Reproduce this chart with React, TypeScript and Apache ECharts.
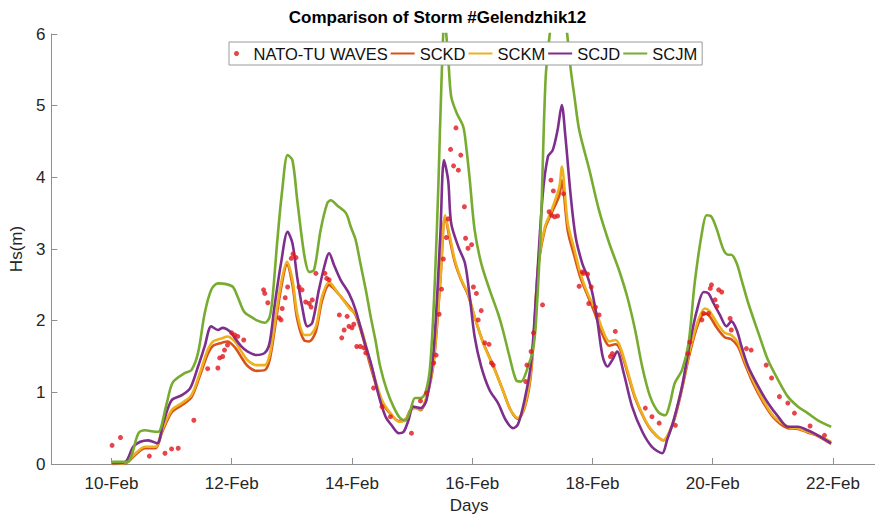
import React, { useEffect, useRef } from "react";
import * as echarts from "echarts";

// Days of February shown as tick labels on the time axis
const xTickDays = [10, 12, 14, 16, 18, 20, 22];

// Measured significant wave height, [day of Feb, Hs (m)]
const natoTuWaves: [number, number][] = [
  [10.01, 0.26], [10.15, 0.37], [10.63, 0.11], [10.89, 0.15], [11.0, 0.21], [11.11, 0.22],
  [11.37, 0.61], [11.6, 1.33], [11.77, 1.34], [11.8, 1.48], [11.85, 1.5], [11.88, 1.59],
  [11.93, 1.66], [12.0, 1.83], [12.05, 1.8], [12.1, 1.78], [12.2, 1.73], [12.53, 2.43],
  [12.55, 2.38], [12.6, 2.25], [12.79, 2.04], [12.82, 2.01], [12.84, 2.17], [12.89, 2.32],
  [12.93, 2.47], [12.99, 2.87], [13.02, 2.93], [13.07, 2.88], [13.12, 2.47], [13.17, 2.43],
  [13.23, 2.26], [13.29, 2.24], [13.32, 2.19], [13.34, 2.29], [13.4, 2.66], [13.55, 2.66],
  [13.58, 2.59], [13.62, 2.57], [13.79, 2.08], [13.83, 1.76], [13.87, 1.87], [13.92, 2.06],
  [13.95, 1.92], [14.0, 1.9], [14.03, 1.95], [14.08, 1.64], [14.14, 1.64], [14.2, 1.62],
  [14.23, 1.55], [14.36, 1.06], [14.5, 0.8], [14.64, 0.66], [14.99, 0.43], [15.14, 0.88],
  [15.24, 0.99], [15.36, 1.41], [15.4, 1.52], [15.45, 2.09], [15.49, 2.44], [15.52, 2.86],
  [15.57, 3.16], [15.6, 3.42], [15.64, 4.39], [15.69, 4.16], [15.73, 4.69], [15.77, 4.1],
  [15.81, 4.31], [15.87, 3.59], [15.89, 3.15], [15.93, 3.01], [15.99, 3.06], [16.02, 2.47],
  [16.07, 2.38], [16.1, 2.01], [16.15, 2.14], [16.21, 1.69], [16.28, 1.67], [16.32, 1.41],
  [16.35, 1.38], [16.89, 1.15], [16.91, 1.38], [16.98, 1.57], [17.02, 1.83], [17.17, 2.22],
  [17.28, 3.52], [17.31, 3.96], [17.32, 3.47], [17.35, 3.81], [17.37, 3.45], [17.42, 3.46],
  [17.52, 3.77], [17.78, 2.48], [17.83, 2.68], [17.85, 2.66], [17.92, 2.65], [17.94, 2.24],
  [17.98, 2.47], [18.05, 2.19], [18.11, 2.08], [18.3, 1.5], [18.33, 1.54], [18.38, 1.85],
  [18.88, 0.78], [18.99, 0.66], [19.11, 0.57], [19.38, 0.54], [19.59, 1.54], [19.62, 1.7],
  [19.82, 2.01], [19.85, 2.1], [19.93, 2.1], [19.96, 2.45], [19.98, 2.5], [20.04, 2.29],
  [20.07, 2.2], [20.1, 2.43], [20.15, 2.4], [20.29, 2.03], [20.31, 1.87], [20.56, 1.61],
  [20.64, 1.59], [20.89, 1.38], [20.98, 1.2], [21.11, 0.94], [21.25, 0.85], [21.36, 0.71],
  [21.62, 0.53], [21.86, 0.4],
];

// Modelled Hs, [day of Feb, Hs (m)]
const sckd: [number, number][] = [
  [10.01, 0.0], [10.23, 0.01], [10.4, 0.13], [10.56, 0.22], [10.73, 0.22], [10.84, 0.44],
  [11.0, 0.72], [11.17, 0.82], [11.33, 0.93], [11.47, 1.23], [11.6, 1.53], [11.69, 1.65],
  [11.83, 1.69], [11.93, 1.71], [12.05, 1.63], [12.16, 1.49], [12.26, 1.37], [12.41, 1.3],
  [12.55, 1.31], [12.63, 1.45], [12.71, 1.85], [12.82, 2.45], [12.92, 2.78], [13.01, 2.5],
  [13.09, 2.02], [13.21, 1.72], [13.29, 1.71], [13.4, 1.85], [13.5, 2.27], [13.62, 2.5],
  [13.73, 2.42], [13.87, 2.28], [13.98, 2.17], [14.06, 2.08], [14.17, 1.8], [14.28, 1.45],
  [14.39, 1.13], [14.5, 0.86], [14.64, 0.7], [14.78, 0.6], [14.89, 0.62], [14.97, 0.75],
  [15.05, 0.79], [15.14, 0.75], [15.24, 0.92], [15.36, 1.42], [15.47, 2.55], [15.55, 3.45],
  [15.63, 3.12], [15.71, 2.82], [15.82, 2.56], [15.93, 2.36], [16.04, 2.05], [16.18, 1.7],
  [16.35, 1.37], [16.51, 1.03], [16.64, 0.75], [16.76, 0.63], [16.87, 0.78], [16.97, 1.2],
  [17.03, 1.85], [17.1, 2.75], [17.21, 3.28], [17.32, 3.5], [17.45, 3.75], [17.49, 3.96],
  [17.59, 3.25], [17.7, 2.9], [17.8, 2.6], [17.92, 2.35], [18.05, 2.08], [18.17, 1.8],
  [18.28, 1.65], [18.38, 1.67], [18.46, 1.6], [18.58, 1.28], [18.71, 0.92], [18.88, 0.6],
  [18.99, 0.46], [19.18, 0.33], [19.27, 0.42], [19.37, 0.64], [19.49, 1.05], [19.62, 1.55],
  [19.76, 1.96], [19.87, 2.1], [19.95, 2.06], [20.07, 1.9], [20.2, 1.77], [20.31, 1.74],
  [20.42, 1.64], [20.53, 1.41], [20.67, 1.13], [20.84, 0.86], [21.02, 0.64], [21.25, 0.5],
  [21.42, 0.49], [21.58, 0.44], [21.75, 0.39], [21.97, 0.28],
];

const sckm: [number, number][] = [
  [10.01, 0.0], [10.23, 0.02], [10.4, 0.15], [10.56, 0.24], [10.73, 0.24], [10.84, 0.47],
  [11.0, 0.75], [11.17, 0.85], [11.33, 0.96], [11.47, 1.27], [11.6, 1.59], [11.69, 1.71],
  [11.83, 1.75], [11.93, 1.78], [12.05, 1.71], [12.16, 1.57], [12.26, 1.45], [12.41, 1.38],
  [12.55, 1.38], [12.63, 1.52], [12.71, 1.92], [12.82, 2.52], [12.92, 2.82], [13.01, 2.57],
  [13.09, 2.1], [13.21, 1.8], [13.29, 1.8], [13.4, 1.92], [13.5, 2.33], [13.62, 2.54],
  [13.73, 2.43], [13.87, 2.27], [13.98, 2.15], [14.06, 2.1], [14.17, 1.85], [14.28, 1.5],
  [14.39, 1.17], [14.5, 0.89], [14.64, 0.71], [14.78, 0.59], [14.89, 0.61], [14.97, 0.75],
  [15.05, 0.78], [15.14, 0.76], [15.24, 0.94], [15.36, 1.45], [15.47, 2.57], [15.55, 3.47],
  [15.63, 3.17], [15.71, 2.85], [15.82, 2.57], [15.93, 2.38], [16.04, 2.06], [16.18, 1.69],
  [16.35, 1.36], [16.51, 1.03], [16.64, 0.75], [16.76, 0.64], [16.87, 0.8], [16.97, 1.25],
  [17.03, 1.87], [17.1, 2.8], [17.21, 3.31], [17.32, 3.54], [17.45, 3.87], [17.49, 4.15],
  [17.59, 3.36], [17.7, 2.99], [17.8, 2.66], [17.92, 2.38], [18.05, 2.15], [18.17, 1.87],
  [18.28, 1.71], [18.38, 1.73], [18.46, 1.64], [18.58, 1.31], [18.71, 0.94], [18.88, 0.61],
  [18.99, 0.47], [19.18, 0.33], [19.27, 0.43], [19.37, 0.66], [19.49, 1.08], [19.62, 1.59],
  [19.76, 2.01], [19.87, 2.17], [19.95, 2.13], [20.07, 1.97], [20.2, 1.83], [20.31, 1.8],
  [20.42, 1.69], [20.53, 1.45], [20.67, 1.17], [20.84, 0.89], [21.02, 0.66], [21.25, 0.52],
  [21.42, 0.5], [21.58, 0.45], [21.75, 0.4], [21.97, 0.31],
];

const scjd: [number, number][] = [
  [10.01, 0.01], [10.23, 0.03], [10.36, 0.24], [10.48, 0.31], [10.61, 0.33], [10.76, 0.29],
  [10.86, 0.57], [11.0, 0.89], [11.17, 0.96], [11.31, 1.06], [11.44, 1.36], [11.55, 1.64],
  [11.66, 1.92], [11.77, 1.87], [11.85, 1.9], [11.97, 1.85], [12.05, 1.76], [12.16, 1.64],
  [12.26, 1.57], [12.41, 1.52], [12.55, 1.55], [12.63, 1.69], [12.71, 2.19], [12.82, 2.8],
  [12.93, 3.24], [13.01, 3.08], [13.09, 2.6], [13.17, 2.2], [13.26, 1.92], [13.34, 1.97],
  [13.45, 2.43], [13.57, 2.85], [13.62, 2.94], [13.7, 2.78], [13.81, 2.57], [13.95, 2.38],
  [14.06, 2.15], [14.2, 1.73], [14.33, 1.36], [14.45, 0.94], [14.56, 0.66], [14.66, 0.54],
  [14.78, 0.43], [14.86, 0.45], [14.94, 0.61], [15.02, 0.8], [15.14, 0.78], [15.24, 0.89],
  [15.36, 1.6], [15.47, 3.2], [15.53, 4.24], [15.6, 3.96], [15.65, 3.36], [15.77, 3.03],
  [15.88, 2.8], [15.96, 2.33], [16.04, 1.78], [16.15, 1.36], [16.29, 1.03], [16.43, 0.85],
  [16.56, 0.61], [16.68, 0.5], [16.76, 0.55], [16.87, 0.89], [16.98, 1.41], [17.06, 2.33],
  [17.17, 3.73], [17.26, 4.29], [17.34, 4.38], [17.42, 4.66], [17.49, 5.01], [17.55, 4.57],
  [17.64, 3.73], [17.72, 3.17], [17.83, 2.8], [17.92, 2.61], [18.0, 2.38], [18.08, 2.01],
  [18.17, 1.5], [18.25, 1.36], [18.33, 1.45], [18.41, 1.57], [18.52, 1.27], [18.66, 0.8],
  [18.83, 0.45], [18.99, 0.24], [19.16, 0.15], [19.24, 0.33], [19.35, 0.61], [19.49, 1.08],
  [19.62, 1.69], [19.74, 2.15], [19.85, 2.4], [19.93, 2.38], [20.01, 2.25], [20.12, 2.08],
  [20.23, 1.92], [20.31, 1.99], [20.4, 1.87], [20.48, 1.64], [20.59, 1.36], [20.76, 1.08],
  [20.92, 0.85], [21.09, 0.66], [21.25, 0.52], [21.42, 0.52], [21.58, 0.47], [21.75, 0.4],
  [21.97, 0.29],
];

const scjm: [number, number][] = [
  [10.01, 0.03], [10.26, 0.03], [10.45, 0.43], [10.56, 0.47], [10.73, 0.45], [10.78, 0.45],
  [10.92, 0.85], [11.02, 1.14], [11.22, 1.27], [11.33, 1.31], [11.44, 1.55], [11.55, 2.1],
  [11.66, 2.43], [11.77, 2.52], [11.91, 2.51], [12.02, 2.47], [12.1, 2.33], [12.21, 2.12],
  [12.33, 2.05], [12.43, 2.0], [12.55, 1.97], [12.63, 2.05], [12.68, 2.33], [12.76, 3.13],
  [12.84, 3.82], [12.93, 4.31], [13.01, 4.24], [13.09, 3.68], [13.21, 2.9], [13.29, 2.68],
  [13.37, 2.71], [13.48, 3.27], [13.59, 3.64], [13.65, 3.68], [13.75, 3.61], [13.9, 3.5],
  [13.98, 3.31], [14.06, 3.13], [14.14, 2.8], [14.23, 2.43], [14.31, 2.06], [14.39, 1.73],
  [14.47, 1.36], [14.58, 1.03], [14.69, 0.8], [14.8, 0.64], [14.89, 0.61], [14.97, 0.75],
  [15.05, 0.92], [15.14, 0.92], [15.22, 0.99], [15.3, 1.36], [15.38, 2.57], [15.44, 3.96],
  [15.49, 5.36], [15.54, 6.2], [15.6, 5.68], [15.65, 5.13], [15.74, 4.9], [15.85, 4.71],
  [15.9, 4.43], [15.96, 3.96], [16.04, 3.27], [16.15, 2.8], [16.29, 2.43], [16.43, 2.1],
  [16.51, 1.87], [16.62, 1.5], [16.73, 1.17], [16.81, 1.15], [16.93, 1.36], [17.01, 1.59],
  [17.06, 1.97], [17.14, 3.27], [17.22, 5.36], [17.29, 6.0], [17.4, 6.7], [17.5, 6.55],
  [17.58, 6.0], [17.64, 5.5], [17.7, 5.13], [17.78, 4.66], [17.95, 4.1], [18.11, 3.54],
  [18.28, 3.08], [18.44, 2.71], [18.58, 2.33], [18.71, 1.87], [18.83, 1.35], [18.96, 0.94],
  [19.1, 0.72], [19.21, 0.68], [19.29, 0.85], [19.37, 1.13], [19.49, 1.31], [19.6, 1.69],
  [19.7, 2.52], [19.82, 3.22], [19.9, 3.47], [19.98, 3.45], [20.07, 3.27], [20.18, 2.99],
  [20.26, 2.92], [20.31, 2.92], [20.4, 2.8], [20.48, 2.57], [20.59, 2.25], [20.76, 1.83],
  [20.92, 1.45], [21.09, 1.17], [21.25, 0.94], [21.42, 0.8], [21.58, 0.71], [21.75, 0.61],
  [21.97, 0.52],
];

const FONT = "'Liberation Sans', Arial, Helvetica, sans-serif";
const AXIS_GREY = "#8f8f8f";
const TEXT_DARK = "#262626";

const lineSeries = (name: string, data: [number, number][], color: string) => ({
  name,
  type: "line",
  data,
  symbol: "none",
  smooth: 0.3,
  clip: true,
  lineStyle: { color, width: 2.6 },
  itemStyle: { color },
});

// Legend entry for a line series: plain stroke, no marker in the middle
const lineLegendItem = (name: string) => ({
  name,
  itemStyle: { color: "rgba(0,0,0,0)", borderWidth: 0, opacity: 0 },
});

export default function App() {
  const ref = useRef<HTMLDivElement>(null);

  useEffect(() => {
    if (!ref.current) return;
    const chart = echarts.init(ref.current, null, { renderer: "svg" });
    chart.setOption({
      animation: false,
      backgroundColor: "#ffffff",
      textStyle: { fontFamily: FONT },
      title: {
        text: "Comparison of Storm #Gelendzhik12",
        left: "center",
        top: 4,
        textStyle: { fontFamily: FONT, fontSize: 17, fontWeight: "bold", color: "#000" },
      },
      legend: {
        left: 229,
        top: 42,
        itemWidth: 24,
        itemHeight: 5,
        itemGap: 2,
        padding: [3, 5],
        borderColor: "#9a9a9a",
        borderWidth: 1,
        backgroundColor: "#ffffff",
        textStyle: { fontFamily: FONT, fontSize: 16.5, color: "#111" },
        data: [
          { name: "NATO-TU WAVES", icon: "circle" },
          lineLegendItem("SCKD"),
          lineLegendItem("SCKM"),
          lineLegendItem("SCJD"),
          lineLegendItem("SCJM"),
        ],
      },
      grid: { left: 46, right: 0, top: 34, bottom: 56, containLabel: false },
      xAxis: {
        type: "value",
        min: 9,
        max: 22.7,
        name: "Days",
        nameLocation: "middle",
        nameGap: 33,
        nameTextStyle: { fontFamily: FONT, fontSize: 17, color: TEXT_DARK, padding: [0, 0, 0, 12] },
        axisLine: { show: true, lineStyle: { color: AXIS_GREY, width: 1 } },
        axisTick: {
          show: true,
          inside: true,
          length: 6,
          customValues: xTickDays,
          lineStyle: { color: AXIS_GREY },
        },
        axisLabel: {
          customValues: xTickDays,
          formatter: (v: number) => `${v}-Feb`,
          fontFamily: FONT,
          fontSize: 17,
          color: TEXT_DARK,
          margin: 11,
        },
        splitLine: { show: false },
      },
      yAxis: {
        type: "value",
        min: 0,
        max: 6,
        interval: 1,
        name: "Hs(m)",
        nameLocation: "middle",
        nameRotate: 90,
        nameGap: 21,
        nameTextStyle: { fontFamily: FONT, fontSize: 17, color: TEXT_DARK },
        axisLine: { show: true, lineStyle: { color: AXIS_GREY, width: 1 } },
        axisTick: { show: true, inside: true, length: 6, lineStyle: { color: AXIS_GREY } },
        axisLabel: { fontFamily: FONT, fontSize: 17, color: TEXT_DARK, margin: 6 },
        splitLine: { show: false },
      },
      series: [
        lineSeries("SCKD", sckd, "#D95319"),
        lineSeries("SCKM", sckm, "#EDB120"),
        lineSeries("SCJD", scjd, "#7E2F8E"),
        lineSeries("SCJM", scjm, "#77AC30"),
        {
          name: "NATO-TU WAVES",
          type: "scatter",
          data: natoTuWaves,
          symbol: "circle",
          symbolSize: 5,
          z: 5,
          itemStyle: { color: "#e0161e" },
        },
      ],
    });
    return () => chart.dispose();
  }, []);

  return (
    <div
      ref={ref}
      style={{ position: "fixed", left: 0, top: 0, width: 875, height: 520, background: "#fff" }}
    />
  );
}
